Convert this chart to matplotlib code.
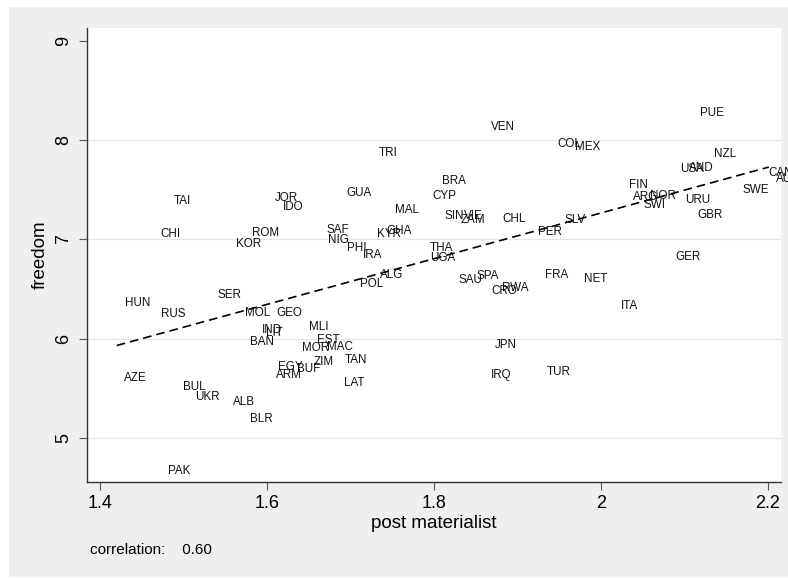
import numpy as np
import matplotlib
matplotlib.use("Agg")
import matplotlib.pyplot as plt
from matplotlib.patches import Rectangle

plt.rcParams['font.family'] = ['Liberation Sans', 'DejaVu Sans']

# country codes, post materialist index, freedom score
countries = ["PUE", "VEN", "COL", "MEX", "NZL", "USA", "AND", "TRI", "BRA", "CYP",
             "GUA", "JOR", "TAI", "IDO", "MAL", "FIN", "ARG", "NOR", "SWI", "CAN",
             "AUS", "SWE", "URU", "GBR", "SIN", "VIE", "ZAM", "CHL", "SLV", "PER",
             "CHI", "ROM", "KOR", "SAF", "NIG", "KYR", "GHA", "PHI", "IRA", "THA",
             "UGA", "GER", "ALG", "POL", "SAU", "SPA", "FRA", "NET", "CRO", "RWA",
             "HUN", "SER", "RUS", "MOL", "GEO", "ITA", "MLI", "IND", "LIT", "BAN",
             "EST", "MOR", "MAC", "JPN", "ZIM", "TAN", "EGY", "BUF", "ARM", "AZE",
             "IRQ", "TUR", "LAT", "BUL", "UKR", "ALB", "BLR", "PAK"]
postmat = [2.110, 1.860, 1.940, 1.960, 2.127, 2.086, 2.097, 1.725, 1.801, 1.790,
           1.687, 1.601, 1.480, 1.611, 1.745, 2.025, 2.030, 2.050, 2.043, 2.192,
           2.201, 2.161, 2.092, 2.107, 1.804, 1.827, 1.824, 1.874, 1.948, 1.916,
           1.464, 1.574, 1.555, 1.663, 1.665, 1.723, 1.735, 1.688, 1.706, 1.787,
           1.787, 2.081, 1.727, 1.703, 1.821, 1.842, 1.925, 1.971, 1.860, 1.873,
           1.422, 1.532, 1.465, 1.565, 1.603, 2.015, 1.642, 1.585, 1.590, 1.571,
           1.651, 1.633, 1.663, 1.864, 1.648, 1.685, 1.605, 1.627, 1.602, 1.420,
           1.860, 1.927, 1.684, 1.491, 1.505, 1.551, 1.571, 1.473]
freedom = [8.285, 8.144, 7.973, 7.943, 7.874, 7.721, 7.731, 7.882, 7.597, 7.446,
           7.479, 7.429, 7.396, 7.338, 7.312, 7.564, 7.436, 7.446, 7.355, 7.685,
           7.620, 7.507, 7.413, 7.262, 7.245, 7.245, 7.204, 7.218, 7.211, 7.084,
           7.066, 7.077, 6.970, 7.111, 7.003, 7.066, 7.101, 6.925, 6.852, 6.925,
           6.825, 6.832, 6.658, 6.563, 6.600, 6.648, 6.658, 6.617, 6.492, 6.523,
           6.372, 6.452, 6.265, 6.271, 6.271, 6.338, 6.130, 6.104, 6.070, 5.979,
           5.994, 5.918, 5.928, 5.953, 5.781, 5.795, 5.727, 5.707, 5.651, 5.616,
           5.643, 5.677, 5.566, 5.526, 5.425, 5.375, 5.207, 4.684]
corr_text = "correlation:    0.60"

xticks = [1.4, 1.6, 1.8, 2.0, 2.2]
xticklabels = ["1.4", "1.6", "1.8", "2", "2.2"]
yticks = [5, 6, 7, 8, 9]

x = np.array(postmat)
y = np.array(freedom)

fig = plt.figure(figsize=(7.88, 5.78), dpi=100)
fig.patch.set_facecolor("white")
# light grey graph region like Stata
fig.patches.append(Rectangle((9 / 788, 1 / 578), 1 - 9 / 788, 1 - 8 / 578,
                             transform=fig.transFigure, facecolor="#efefef",
                             edgecolor="none", zorder=-10))

ax = fig.add_axes([87 / 788, 1 - 482 / 578, 694 / 788, 454.3 / 578])
ax.set_facecolor("white")
ax.set_xlim(1.3844, 2.2156)
ax.set_ylim(4.556, 9.131)

for g in [5, 6, 7, 8]:
    ax.axhline(g, color="#e6e6e6", lw=1.0, zorder=1)

# country labels (no markers)
for name, xi, yi in zip(countries, x, y):
    ax.annotate(name, (xi, yi), xytext=(5, -0.9), textcoords="offset points",
                ha="left", va="center", fontsize=8.4, color="#111111",
                annotation_clip=False, zorder=3)

# linear fit
b, a = np.polyfit(x, y, 1)
xs = np.array([x.min(), x.max()])
ax.plot(xs, a + b * xs, color="black", lw=1.2, dashes=(5.2, 3.0), zorder=2)

for s in ["top", "right"]:
    ax.spines[s].set_visible(False)
for s in ["left", "bottom"]:
    ax.spines[s].set_color("#333333")
    ax.spines[s].set_linewidth(1.0)

ax.set_xticks(xticks)
ax.set_xticklabels(xticklabels)
ax.set_yticks(yticks)
ax.tick_params(axis="x", length=6, width=0.8, color="#555555", pad=3.5, labelsize=13)
ax.tick_params(axis="y", length=6, width=0.8, color="#555555", pad=4.5, labelsize=13,
               labelrotation=90)
for lab in ax.get_yticklabels():
    lab.set_va("center")

ax.set_xlabel("post materialist", fontsize=13.5, labelpad=2)
ax.set_ylabel("freedom", fontsize=13.5, labelpad=5)

fig.text(90 / 788, 1 - 550 / 578, corr_text, fontsize=11, ha="left", va="center")

fig.savefig("out.png", dpi=100, facecolor=fig.get_facecolor())
